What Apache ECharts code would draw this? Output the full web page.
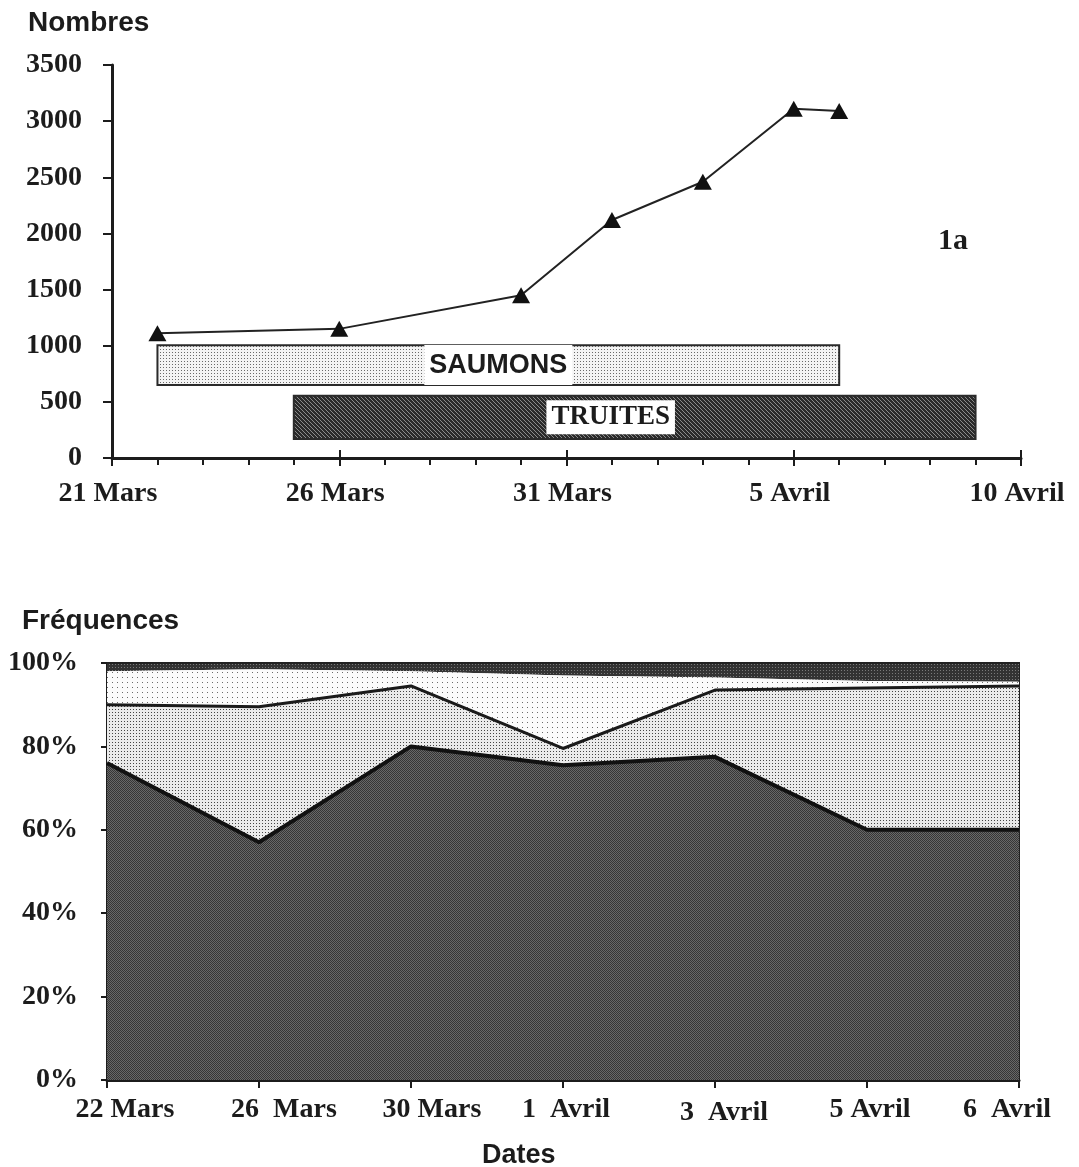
<!DOCTYPE html>
<html>
<head>
<meta charset="utf-8">
<script src="https://cdn.jsdelivr.net/npm/echarts@6/dist/echarts.min.js"></script>
<style>html,body{margin:0;padding:0;background:#fff}#c{width:1079px;height:1167px}</style>
</head>
<body>
<div id="c"></div>
<script>
// ---- Figure 1a : counts over time ----
const topTickLabels = ['21 Mars', '26 Mars', '31 Mars', '5 Avril', '10 Avril']; // every 5 days from 21 Mars
const sampleDays = [1, 5, 9, 11, 13, 15, 16];            // days after 21 Mars
const nombres = [1110, 1150, 1450, 2120, 2460, 3110, 3090];
const periodNames = ['SAUMONS', 'TRUITES'];
const periodStart = [1, 4];      // days after 21 Mars
const periodEnd = [16, 19];
const periodLow = [650, 170];
const periodHigh = [1005, 555];

// ---- Figure 1b : frequencies (stacked, %) ----
const dates = ['22 Mars', '26  Mars', '30 Mars', '1  Avril', '3  Avril', '5 Avril', '6  Avril'];
const freqA = [76, 57, 80, 75.5, 77.5, 60, 60];
const freqB = [14, 32.5, 14.5, 4, 16, 34, 34.5];
const freqC = [8, 9, 3.5, 17.5, 3, 1.7, 1];
const freqD = [2, 1.5, 2, 3, 3.5, 4.3, 4.5];

// label layout tweaks (horizontal shift in px, vertical drop in px) for bottom date labels
const dateLabelShift = [18, 25, 21, 3, 9, 3, -12];
const dateLabelDrop = [0, 0, 0, 0, 3, 0, 0];

const SERIF = '"Liberation Serif", "Times New Roman", serif';
const SANS = '"Liberation Sans", Arial, sans-serif';
const INK = '#1c1c1c';

function pattern(size, bg, color, pts) {
  const c = document.createElement('canvas');
  c.width = size; c.height = size;
  const ctx = c.getContext('2d');
  ctx.fillStyle = bg; ctx.fillRect(0, 0, size, size);
  ctx.fillStyle = color;
  pts.forEach(p => ctx.fillRect(p[0], p[1], 1, 1));
  return { image: c, repeat: 'repeat' };
}
const patA = pattern(2, '#686868', '#363636', [[0, 0], [1, 1]]);
const patB = pattern(3, '#eaeaea', '#444444', [[1, 1]]);
const patC = pattern(5, '#fbfbfb', '#6a6a6a', [[2, 2]]);
const patD = pattern(3, '#333333', '#7a7a7a', [[1, 1]]);
const patSaumons = pattern(3, '#f4f4f4', '#6a6a6a', [[1, 1]]);
const patTruites = pattern(4, '#2a2a2a', '#8a8a8a', [[0, 0], [1, 1], [2, 2], [3, 3]]);
const periodFills = [patSaumons, patTruites];

const chart = echarts.init(document.getElementById('c'), null, { renderer: 'canvas' });

const axisLabelSerif = { fontFamily: SERIF, fontWeight: 'bold', fontSize: 28, color: INK };

const dateItems = dates.map((d, i) => {
  const s = dateLabelShift[i];
  return {
    value: d,
    textStyle: { padding: [dateLabelDrop[i], s < 0 ? -2 * s : 0, 0, s > 0 ? 2 * s : 0] }
  };
});

chart.setOption({
  animation: false,
  backgroundColor: '#ffffff',
  grid: [
    { left: 112, right: 58, top: 65, bottom: 709 },
    { left: 107, right: 60, top: 663, bottom: 87, show: true, borderColor: '#222', borderWidth: 2, backgroundColor: 'transparent' }
  ],
  xAxis: [
    {
      gridIndex: 0, type: 'value', min: 0, max: 20, interval: 5,
      axisLine: { show: true, lineStyle: { color: INK, width: 3 } },
      axisTick: { show: true, length: 8, lineStyle: { color: INK, width: 2 } },
      minorTick: { show: true, splitNumber: 5, length: 7, lineStyle: { color: INK, width: 2 } },
      splitLine: { show: false },
      axisLabel: Object.assign({ margin: 22, padding: [0, 8, 0, 0], formatter: v => topTickLabels[Math.round(v / 5)] || '' }, axisLabelSerif)
    },
    {
      gridIndex: 0, type: 'value', min: 0, max: 20, interval: 5, position: 'bottom',
      axisLine: { show: false },
      axisTick: { show: true, inside: true, length: 8, lineStyle: { color: INK, width: 2 } },
      splitLine: { show: false }, axisLabel: { show: false }
    },
    {
      gridIndex: 1, type: 'category', data: dateItems, boundaryGap: false,
      axisLine: { show: true, lineStyle: { color: INK, width: 3 } },
      axisTick: { show: true, length: 8, lineStyle: { color: INK, width: 2 } },
      splitLine: { show: false },
      axisLabel: Object.assign({ margin: 16, interval: 0 }, axisLabelSerif)
    }
  ],
  yAxis: [
    {
      gridIndex: 0, type: 'value', min: 0, max: 3500, interval: 500,
      axisLine: { show: true, lineStyle: { color: INK, width: 3 } },
      axisTick: { show: true, length: 9, lineStyle: { color: INK, width: 2 } },
      splitLine: { show: false },
      axisLabel: Object.assign({ margin: 30, formatter: v => String(v) }, axisLabelSerif)
    },
    {
      gridIndex: 1, type: 'value', min: 0, max: 100, interval: 20,
      axisLine: { show: true, lineStyle: { color: INK, width: 2 } },
      axisTick: { show: true, length: 6, lineStyle: { color: INK, width: 2 } },
      splitLine: { show: false },
      axisLabel: Object.assign({ margin: 29, formatter: v => v + '%' }, axisLabelSerif)
    }
  ],
  graphic: [
    { type: 'text', left: 28, top: 9, style: { text: 'Nombres', font: 'bold 28px ' + SANS, fill: INK } },
    { type: 'text', left: 22, top: 607, style: { text: 'Fréquences', font: 'bold 28px ' + SANS, fill: INK } },
    { type: 'text', left: 938, top: 226, style: { text: '1a', font: 'bold 30px ' + SERIF, fill: INK } },
    { type: 'text', left: 933, top: 746, style: { text: '1b', font: 'bold 30px ' + SERIF, fill: INK, backgroundColor: '#ffffff', padding: [4, 4, 3, 4] } },
    { type: 'text', left: 482, top: 1142, style: { text: 'Dates', font: 'bold 27px ' + SANS, fill: INK } }
  ],
  series: [
    {
      type: 'custom', xAxisIndex: 0, yAxisIndex: 0,
      data: periodNames.map((n, i) => [periodStart[i], periodEnd[i], periodLow[i], periodHigh[i], i]),
      encode: { x: [0, 1], y: [2, 3] },
      renderItem: (params, api) => {
        const i = api.value(4);
        const p0 = api.coord([api.value(0), api.value(3)]);
        const p1 = api.coord([api.value(1), api.value(2)]);
        const isSaumon = i === 0;
        return {
          type: 'rect',
          shape: { x: p0[0], y: p0[1], width: p1[0] - p0[0], height: p1[1] - p0[1] },
          style: { fill: periodFills[i], stroke: '#2a2a2a', lineWidth: 2 },
          textContent: {
            style: {
              text: periodNames[i],
              font: isSaumon ? 'bold 27px ' + SANS : 'bold 27px ' + SERIF,
              fill: INK,
              backgroundColor: '#ffffff',
              padding: isSaumon ? [7, 5, 6, 5] : [4, 5, 3, 5]
            }
          },
          textConfig: { position: 'inside', offset: isSaumon ? [0, 0] : [-24, 0] }
        };
      },
      z: 2
    },
    {
      type: 'line', xAxisIndex: 0, yAxisIndex: 0,
      data: sampleDays.map((d, i) => [d, nombres[i]]),
      symbol: 'triangle', symbolSize: [18, 16],
      itemStyle: { color: '#111' },
      lineStyle: { color: '#222', width: 2 },
      z: 3
    },
    {
      type: 'line', xAxisIndex: 2, yAxisIndex: 1, stack: 'f', data: freqA,
      showSymbol: false, symbol: 'none',
      lineStyle: { color: '#111', width: 4 },
      areaStyle: { color: patA, opacity: 1 }, z: 5
    },
    {
      type: 'line', xAxisIndex: 2, yAxisIndex: 1, stack: 'f', data: freqB,
      showSymbol: false, symbol: 'none',
      lineStyle: { color: '#1a1a1a', width: 3 },
      areaStyle: { color: patB, opacity: 1 }, z: 4
    },
    {
      type: 'line', xAxisIndex: 2, yAxisIndex: 1, stack: 'f', data: freqC,
      showSymbol: false, symbol: 'none',
      lineStyle: { width: 0 },
      areaStyle: { color: patC, opacity: 1 }, z: 3
    },
    {
      type: 'line', xAxisIndex: 2, yAxisIndex: 1, stack: 'f', data: freqD,
      showSymbol: false, symbol: 'none',
      lineStyle: { color: '#222', width: 2 },
      areaStyle: { color: patD, opacity: 1 }, z: 2
    }
  ]
});
</script>
</body>
</html>
